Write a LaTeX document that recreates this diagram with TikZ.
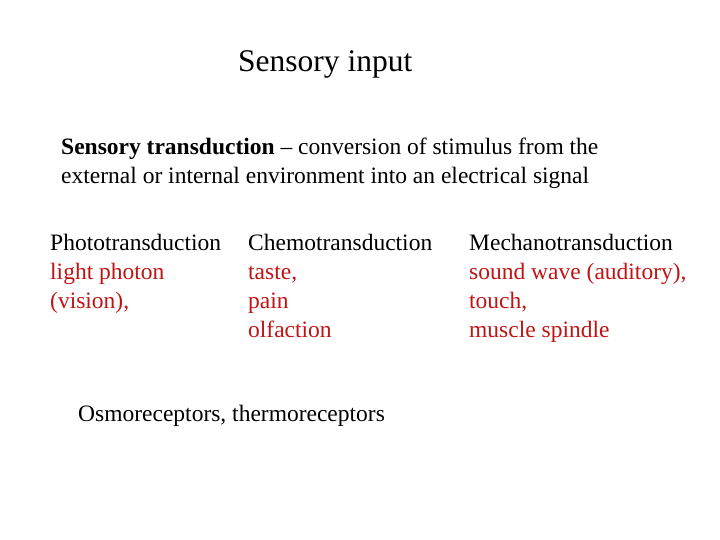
\documentclass[tikz,border=0pt]{standalone}
\usepackage{fontspec}
\setmainfont{Liberation Serif}
\definecolor{redt}{RGB}{192,20,20}
\begin{document}
\begin{tikzpicture}[x=1pt,y=-1pt,
  txt/.style={anchor=base west,inner sep=0pt,font=\fontsize{23.5}{29}\selectfont},
  red/.style={txt,text=redt},
  ttl/.style={anchor=base west,inner sep=0pt,font=\fontsize{31.5}{36}\selectfont}]
\useasboundingbox (0,0) rectangle (720,540);
\node[ttl] (title) at (238,72) {Sensory input};
\node[txt] (def1) at (61,155) {\textbf{Sensory transduction} -- conversion of stimulus from the};
\node[txt] (def2) at (61,184) {external or internal environment into an electrical signal};
\node[txt] (photo) at (50,250) {Phototransduction};
\node[red] (photo1) at (50,279) {light photon};
\node[red] (photo2) at (50,308) {(vision),};
\node[txt] (chemo) at (248,250) {Chemotransduction};
\node[red] (chemo1) at (248,279) {taste,};
\node[red] (chemo2) at (248,308) {pain};
\node[red] (chemo3) at (248,337) {olfaction};
\node[txt] (mech) at (469,250) {Mechanotransduction};
\node[red] (mech1) at (469,279) {sound wave (auditory),};
\node[red] (mech2) at (469,308) {touch,};
\node[red] (mech3) at (469,337) {muscle spindle};
\node[txt] (osmo) at (78,421) {Osmoreceptors, thermoreceptors};
\end{tikzpicture}
\end{document}
